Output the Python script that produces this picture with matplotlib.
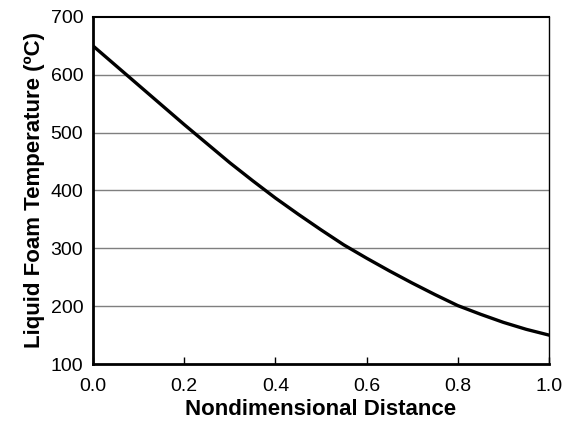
import matplotlib
matplotlib.use("Agg")
import matplotlib.pyplot as plt

# nondimensional distance vs liquid foam temperature
distance = [0.0, 0.05, 0.1, 0.15, 0.2, 0.25, 0.3, 0.35, 0.4, 0.45, 0.5,
            0.55, 0.6, 0.65, 0.7, 0.75, 0.8, 0.85, 0.9, 0.95, 1.0]
temperature = [650, 616, 582, 548, 514, 481, 448, 417, 387, 359, 332,
               306, 283, 261, 240, 220, 201, 186, 172, 160, 150]
x_ticks = [0.0, 0.2, 0.4, 0.6, 0.8, 1.0]
y_ticks = [100, 200, 300, 400, 500, 600, 700]

plt.rcParams["font.family"] = ["Liberation Sans", "DejaVu Sans"]

fig = plt.figure(figsize=(5.65, 4.24), dpi=100)
ax = fig.add_axes([0.1646, 0.1415, 0.807, 0.8185])

for y in y_ticks[1:-1]:
    ax.axhline(y, color="#7f7f7f", linewidth=1.0, zorder=1)

ax.plot(distance, temperature, color="black", linewidth=2.4, zorder=3,
        solid_joinstyle="round")

ax.set_xlim(0, 1)
ax.set_ylim(100, 700)
ax.set_xticks(x_ticks)
ax.set_xticklabels([f"{t:.1f}" for t in x_ticks])
ax.set_yticks(y_ticks)
ax.tick_params(axis="x", direction="in", length=5, width=1, labelsize=14, pad=10)
ax.tick_params(axis="y", length=0, labelsize=14, pad=7)

for side in ["left", "bottom"]:
    ax.spines[side].set_linewidth(2)
ax.spines["top"].set_linewidth(1.5)
ax.spines["right"].set_linewidth(1)

ax.set_xlabel("Nondimensional Distance", fontsize=16, fontweight="bold", labelpad=3)
ax.set_ylabel("Liquid Foam Temperature (ºC)", fontsize=16, fontweight="bold", labelpad=4)

fig.savefig("out.png", dpi=100)
plt.close(fig)
